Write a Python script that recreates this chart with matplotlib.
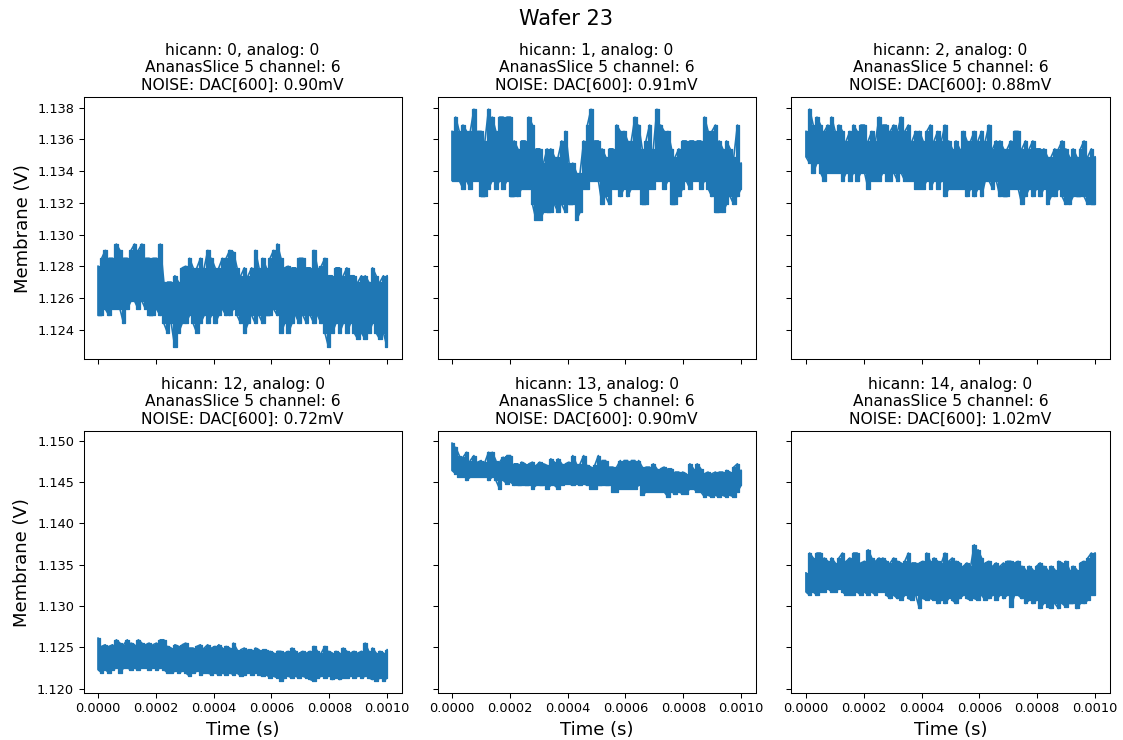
import numpy as np
import matplotlib
matplotlib.use("Agg")
import matplotlib.pyplot as plt

# Membrane traces, upper / lower excursions in mV at successive sample bins
hicann_ids = [0, 1, 2, 12, 13, 14]
noise_mv = [0.90, 0.91, 0.88, 0.72, 0.90, 1.02]

upper_h0 = [1128.0, 1128.5, 1129.0, 1128.5, 1128.5, 1129.4, 1129.0, 1128.5, 1128.5, 1129.0,
            1129.4, 1129.0, 1129.4, 1128.5, 1128.5, 1128.5, 1128.5, 1129.4, 1127.0, 1127.0,
            1127.0, 1127.4, 1127.0, 1127.9, 1128.0, 1128.5, 1127.9, 1127.9, 1128.5, 1127.9,
            1129.0, 1128.5, 1127.9, 1127.9, 1128.5, 1128.5, 1129.0, 1128.9, 1127.9, 1127.4,
            1127.9, 1127.4, 1127.9, 1129.0, 1127.9, 1128.5, 1127.9, 1128.5, 1129.0, 1129.4,
            1128.5, 1127.9, 1128.0, 1127.9, 1127.9, 1128.5, 1128.5, 1127.9, 1127.9, 1129.0,
            1127.9, 1128.0, 1128.5, 1127.4, 1127.4, 1127.9, 1127.9, 1127.4, 1127.9, 1127.4,
            1127.4, 1127.0, 1127.4, 1127.4, 1127.0, 1127.9, 1127.4, 1127.0, 1127.4, 1127.4]
lower_h0 = [1124.9, 1124.9, 1125.3, 1124.9, 1125.3, 1125.3, 1125.3, 1124.4, 1125.3, 1125.8,
            1125.8, 1125.3, 1125.8, 1125.3, 1124.9, 1124.9, 1125.3, 1124.9, 1124.4, 1123.8,
            1124.4, 1122.9, 1123.8, 1124.4, 1124.4, 1124.9, 1124.4, 1123.8, 1124.4, 1124.9,
            1124.4, 1124.9, 1124.4, 1124.9, 1125.3, 1124.9, 1124.9, 1125.3, 1124.9, 1124.4,
            1123.8, 1124.4, 1124.9, 1124.4, 1124.9, 1124.4, 1124.9, 1124.9, 1125.3, 1124.9,
            1123.8, 1124.4, 1123.8, 1124.4, 1124.9, 1124.4, 1124.9, 1124.4, 1124.9, 1124.4,
            1124.9, 1124.4, 1123.8, 1122.9, 1123.8, 1124.4, 1123.8, 1124.4, 1123.8, 1124.4,
            1123.8, 1123.4, 1123.8, 1123.4, 1123.8, 1124.4, 1123.8, 1123.4, 1123.8, 1122.9]

upper_h1 = [1136.5, 1137.4, 1136.5, 1136.9, 1136.5, 1136.5, 1137.9, 1136.5, 1136.5, 1135.9,
            1137.9, 1137.4, 1136.5, 1137.4, 1137.4, 1137.4, 1137.4, 1135.9, 1135.4, 1135.9,
            1135.9, 1137.4, 1136.9, 1135.4, 1135.4, 1134.5, 1135.4, 1135.4, 1134.9, 1134.9,
            1135.9, 1136.5, 1134.5, 1134.5, 1133.9, 1133.9, 1135.9, 1136.9, 1137.9, 1135.9,
            1135.9, 1135.4, 1134.9, 1135.4, 1135.4, 1136.9, 1136.5, 1136.5, 1135.9, 1135.9,
            1137.4, 1136.9, 1135.4, 1135.9, 1136.9, 1135.4, 1137.9, 1136.9, 1136.5, 1136.5,
            1135.4, 1134.9, 1135.4, 1135.9, 1135.9, 1135.9, 1135.9, 1135.9, 1135.9, 1137.4,
            1136.5, 1136.5, 1136.9, 1135.9, 1135.4, 1135.9, 1135.4, 1134.9, 1136.9, 1134.5]
lower_h1 = [1133.4, 1133.4, 1133.4, 1132.9, 1133.4, 1132.9, 1133.4, 1133.4, 1132.4, 1132.4,
            1132.9, 1133.4, 1132.9, 1133.4, 1132.9, 1133.4, 1132.4, 1132.4, 1132.4, 1132.9,
            1132.9, 1132.9, 1131.9, 1130.9, 1130.9, 1131.4, 1131.4, 1131.4, 1131.9, 1131.4,
            1131.9, 1131.4, 1131.9, 1131.9, 1130.9, 1131.4, 1132.9, 1132.9, 1133.4, 1133.4,
            1133.4, 1131.9, 1132.4, 1131.9, 1132.9, 1132.9, 1132.4, 1132.9, 1132.4, 1132.9,
            1132.9, 1132.9, 1131.9, 1131.9, 1132.9, 1132.9, 1133.4, 1133.4, 1132.9, 1133.4,
            1131.9, 1131.9, 1132.4, 1132.9, 1133.4, 1132.9, 1133.4, 1133.4, 1132.9, 1133.4,
            1132.9, 1132.4, 1131.4, 1131.4, 1131.4, 1131.9, 1132.4, 1131.9, 1132.4, 1132.9]

upper_h2 = [1136.5, 1137.9, 1136.9, 1137.4, 1136.9, 1136.5, 1136.9, 1137.4, 1136.5, 1136.9,
            1136.5, 1135.9, 1136.5, 1136.9, 1136.5, 1136.9, 1136.9, 1135.9, 1136.5, 1135.9,
            1137.4, 1136.9, 1136.9, 1136.5, 1136.9, 1136.5, 1137.4, 1136.5, 1136.9, 1135.9,
            1136.5, 1136.5, 1135.9, 1136.5, 1136.9, 1135.9, 1136.5, 1135.9, 1136.9, 1135.9,
            1135.4, 1135.9, 1135.4, 1136.5, 1135.9, 1135.9, 1136.5, 1135.9, 1136.5, 1135.9,
            1136.9, 1135.4, 1135.9, 1135.9, 1135.4, 1135.4, 1135.9, 1136.5, 1136.5, 1135.4,
            1135.9, 1135.4, 1135.9, 1135.4, 1135.4, 1135.4, 1134.9, 1134.9, 1135.4, 1135.4,
            1135.9, 1135.4, 1134.9, 1135.4, 1134.9, 1135.4, 1135.9, 1134.9, 1135.4, 1134.9]
lower_h2 = [1134.9, 1134.5, 1133.9, 1134.5, 1133.9, 1133.4, 1133.9, 1133.9, 1133.9, 1133.9,
            1133.4, 1133.9, 1133.4, 1133.9, 1133.4, 1133.9, 1133.9, 1132.9, 1133.4, 1133.4,
            1133.4, 1133.9, 1133.4, 1133.4, 1133.9, 1133.4, 1133.9, 1133.4, 1133.4, 1133.4,
            1132.9, 1132.9, 1132.9, 1133.4, 1132.9, 1133.4, 1132.9, 1133.4, 1132.4, 1132.9,
            1132.9, 1132.9, 1132.9, 1132.9, 1132.4, 1132.9, 1132.4, 1132.9, 1132.4, 1133.4,
            1133.4, 1132.9, 1133.4, 1132.4, 1132.4, 1132.4, 1132.9, 1132.9, 1132.9, 1131.9,
            1132.4, 1132.9, 1132.4, 1132.9, 1132.4, 1132.9, 1131.9, 1132.4, 1132.4, 1132.9,
            1132.4, 1131.9, 1131.9, 1132.4, 1132.4, 1132.4, 1132.4, 1131.9, 1131.9, 1131.9]

upper_h12 = [1126.1, 1125.1, 1125.3, 1125.1, 1125.3, 1125.9, 1125.5, 1125.3, 1125.9, 1125.5,
             1125.3, 1125.9, 1125.5, 1125.3, 1125.5, 1125.3, 1125.5, 1125.9, 1125.9, 1125.1,
             1124.9, 1125.3, 1125.1, 1125.3, 1125.5, 1124.9, 1124.9, 1125.1, 1125.3, 1124.9,
             1125.3, 1124.9, 1125.1, 1125.3, 1124.9, 1125.1, 1124.9, 1125.5, 1124.7, 1124.7,
             1124.9, 1124.7, 1124.7, 1124.9, 1124.7, 1124.7, 1124.7, 1124.5, 1124.3, 1124.5,
             1124.5, 1124.3, 1124.5, 1124.9, 1124.5, 1124.3, 1124.5, 1124.3, 1124.5, 1125.1,
             1124.5, 1124.3, 1125.1, 1124.5, 1124.3, 1124.5, 1124.3, 1124.9, 1124.5, 1124.3,
             1124.5, 1124.3, 1124.5, 1125.5, 1124.5, 1124.9, 1124.3, 1124.5, 1124.3, 1124.7]
lower_h12 = [1122.3, 1121.9, 1122.3, 1121.9, 1122.3, 1122.5, 1121.9, 1122.5, 1122.5, 1122.3,
             1122.5, 1122.3, 1122.5, 1122.5, 1122.3, 1122.5, 1122.3, 1122.5, 1122.3, 1121.9,
             1121.9, 1122.1, 1121.9, 1122.1, 1121.9, 1121.5, 1121.9, 1122.1, 1121.7, 1121.9,
             1121.9, 1121.7, 1121.9, 1121.7, 1121.9, 1121.7, 1121.9, 1121.7, 1121.9, 1121.5,
             1121.7, 1121.9, 1121.7, 1121.9, 1121.7, 1121.5, 1121.7, 1121.3, 1121.5, 1121.3,
             1120.9, 1121.3, 1121.5, 1121.3, 1121.5, 1121.3, 1121.5, 1121.3, 1121.1, 1120.9,
             1121.3, 1121.5, 1121.3, 1121.5, 1121.1, 1121.3, 1121.1, 1121.3, 1121.3, 1121.5,
             1121.3, 1121.5, 1121.3, 1121.5, 1121.3, 1121.1, 1120.9, 1121.3, 1120.9, 1121.3]

upper_h13 = [1149.7, 1149.2, 1148.2, 1148.0, 1148.6, 1147.6, 1148.2, 1147.4, 1147.6, 1147.4,
             1148.6, 1148.6, 1147.6, 1147.4, 1148.0, 1148.2, 1148.2, 1147.2, 1147.2, 1147.4,
             1147.2, 1147.2, 1147.4, 1147.0, 1147.4, 1147.2, 1147.0, 1147.8, 1147.4, 1147.8,
             1147.2, 1147.2, 1147.4, 1148.2, 1147.2, 1147.2, 1148.2, 1147.0, 1146.8, 1147.0,
             1148.2, 1147.6, 1147.6, 1146.8, 1146.8, 1146.8, 1147.6, 1147.6, 1147.6, 1147.6,
             1147.6, 1147.6, 1146.8, 1146.8, 1146.8, 1147.2, 1146.6, 1146.6, 1146.8, 1146.6,
             1146.6, 1146.2, 1146.2, 1146.2, 1146.0, 1147.2, 1146.6, 1147.2, 1146.6, 1146.0,
             1146.2, 1146.0, 1146.2, 1146.2, 1146.2, 1146.4, 1146.2, 1146.8, 1147.2, 1146.4]
lower_h13 = [1146.4, 1146.0, 1145.6, 1145.6, 1145.2, 1145.6, 1145.6, 1145.6, 1145.6, 1145.6,
             1145.2, 1145.6, 1145.2, 1144.2, 1145.2, 1144.8, 1145.0, 1144.6, 1144.6, 1144.6,
             1144.6, 1144.6, 1144.2, 1144.6, 1144.6, 1144.6, 1144.2, 1144.6, 1144.6, 1144.2,
             1144.6, 1144.8, 1144.8, 1144.6, 1144.8, 1144.6, 1144.8, 1144.6, 1144.2, 1144.2,
             1144.6, 1144.6, 1144.6, 1144.6, 1143.8, 1143.8, 1144.2, 1144.2, 1144.2, 1144.2,
             1144.2, 1144.6, 1143.4, 1143.8, 1143.8, 1143.8, 1143.8, 1143.8, 1143.8, 1143.2,
             1143.8, 1143.6, 1143.8, 1143.6, 1143.6, 1144.2, 1144.2, 1143.8, 1143.8, 1143.2,
             1143.4, 1143.2, 1143.4, 1143.2, 1143.4, 1143.2, 1143.4, 1143.2, 1143.8, 1144.6]

upper_h14 = [1134.0, 1136.4, 1135.8, 1136.4, 1136.4, 1135.8, 1135.4, 1135.8, 1135.2, 1135.8,
             1136.4, 1135.4, 1135.8, 1136.4, 1136.4, 1135.2, 1135.4, 1136.8, 1135.8, 1135.4,
             1135.8, 1135.8, 1135.4, 1135.2, 1135.8, 1135.4, 1135.2, 1135.4, 1136.4, 1135.2,
             1135.2, 1135.2, 1135.4, 1136.4, 1135.4, 1135.8, 1135.4, 1135.2, 1136.4, 1135.4,
             1135.8, 1135.4, 1135.2, 1134.8, 1135.2, 1134.8, 1137.4, 1136.8, 1135.8, 1135.2,
             1135.4, 1134.8, 1135.2, 1134.8, 1135.2, 1135.4, 1135.4, 1135.2, 1135.4, 1134.8,
             1134.4, 1134.8, 1134.4, 1134.8, 1135.2, 1134.8, 1134.4, 1134.8, 1134.4, 1135.4,
             1135.2, 1135.4, 1134.4, 1134.8, 1134.4, 1135.2, 1135.4, 1135.8, 1136.4, 1136.4]
lower_h14 = [1131.7, 1131.3, 1131.7, 1131.3, 1131.7, 1131.7, 1132.1, 1131.7, 1131.7, 1132.1,
             1131.7, 1131.3, 1131.3, 1131.3, 1131.7, 1131.3, 1131.7, 1131.3, 1131.7, 1131.3,
             1131.7, 1131.7, 1131.3, 1130.9, 1131.3, 1130.9, 1130.7, 1131.3, 1130.9, 1130.7,
             1131.3, 1129.7, 1130.9, 1130.7, 1130.9, 1130.7, 1130.3, 1130.7, 1130.3, 1130.9,
             1130.7, 1130.3, 1130.9, 1131.3, 1130.9, 1130.7, 1130.9, 1130.7, 1131.3, 1130.7,
             1130.9, 1131.3, 1130.7, 1131.3, 1130.9, 1131.3, 1129.9, 1131.3, 1131.3, 1130.9,
             1130.3, 1130.7, 1130.3, 1130.7, 1129.7, 1130.3, 1129.9, 1129.7, 1130.3, 1129.7,
             1130.3, 1129.9, 1130.3, 1130.3, 1129.7, 1130.3, 1130.3, 1130.7, 1131.3, 1131.3]

upper_traces = [upper_h0, upper_h1, upper_h2, upper_h12, upper_h13, upper_h14]
lower_traces = [lower_h0, lower_h1, lower_h2, lower_h12, lower_h13, lower_h14]

T_END = 1e-3  # recording length in seconds
TRACE_COLOR = "#1f77b4"

fig, axes = plt.subplots(2, 3, figsize=(11.23, 7.4), dpi=100,
                         sharex=True, sharey="row")
fig.subplots_adjust(left=0.0744, right=0.988, top=0.8685, bottom=0.0635,
                    wspace=0.113, hspace=0.276)

for ax, hid, noise, up, lo in zip(axes.flat, hicann_ids, noise_mv,
                                  upper_traces, lower_traces):
    up = np.asarray(up) / 1000.0
    lo = np.asarray(lo) / 1000.0
    t = np.linspace(0.0, T_END, len(up))
    # dense trace: each time bin spans its min..max excursion
    ax.fill_between(t, lo, up, step="mid", facecolor=TRACE_COLOR,
                    edgecolor=TRACE_COLOR, lw=0.9)
    # serpentine stroke through the bin extremes
    tt = np.repeat(t, 2)
    vv = np.empty(2 * len(up))
    vv[0::4] = up[0::2]
    vv[1::4] = lo[0::2]
    vv[2::4] = lo[1::2]
    vv[3::4] = up[1::2]
    ax.plot(tt, vv, color=TRACE_COLOR, lw=1.2)
    ax.set_title(f"hicann: {hid}, analog: 0\nAnanasSlice 5 channel: 6\n"
                 f"NOISE: DAC[600]: {noise:.2f}mV", fontsize=11.2, pad=5.5)
    ax.tick_params(labelsize=9.3, length=3.3, width=0.75)
    for s in ax.spines.values():
        s.set_linewidth(0.75)

axes[0, 0].set_yticks(np.arange(1.124, 1.1381, 0.002))
axes[1, 0].set_yticks(np.arange(1.120, 1.1501, 0.005))
axes[1, 0].set_xticks(np.arange(0.0, 0.00101, 0.0002))
for ax in axes[:, 0]:
    ax.yaxis.set_major_formatter(matplotlib.ticker.FormatStrFormatter("%.3f"))
    ax.set_ylabel("Membrane (V)", fontsize=13)
for ax in axes[1, :]:
    ax.xaxis.set_major_formatter(matplotlib.ticker.FormatStrFormatter("%.4f"))
    ax.set_xlabel("Time (s)", fontsize=13)

fig.suptitle("Wafer 23", fontsize=15, x=0.504, y=0.988)
fig.savefig("out.png", dpi=100)
